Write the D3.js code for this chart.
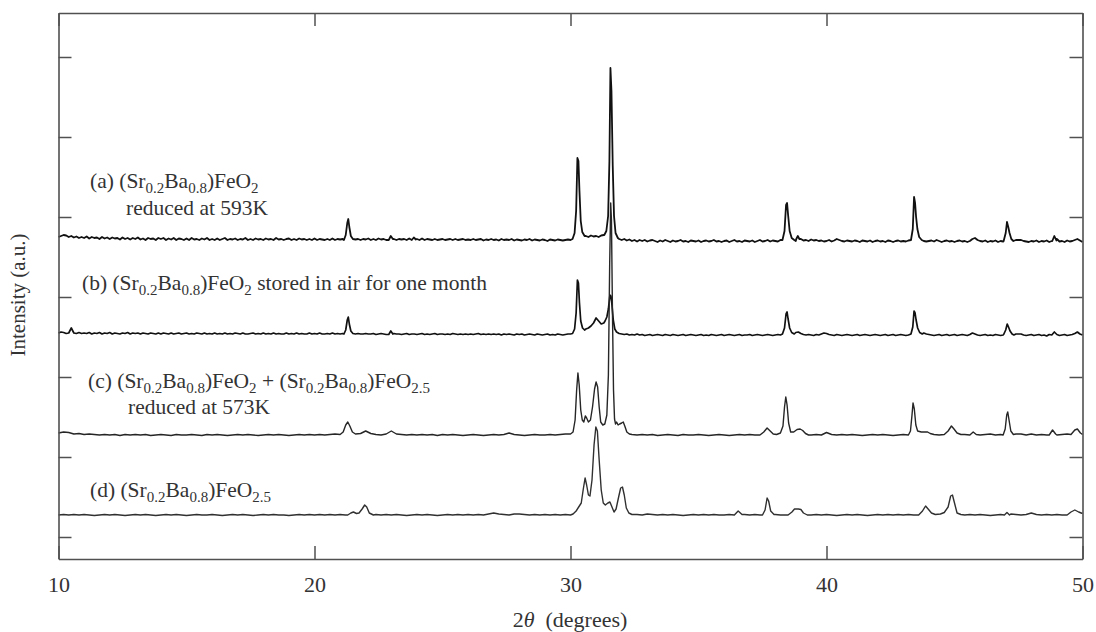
<!DOCTYPE html>
<html><head><meta charset="utf-8">
<script src="https://cdn.jsdelivr.net/npm/d3@7"></script>
<style>html,body{margin:0;padding:0;background:#fff;}svg{display:block;}</style>
</head><body>
<svg id="chart" width="1096" height="632"></svg>
<script>
// ---------- DATA ----------
const xTicks = [10, 20, 30, 40, 50];
const yTicks = [0, 80, 160, 240, 320, 400, 480];
const seriesNames = ["a", "b", "c", "d"];
const seriesOffsets = [296, 202, 102, 22];

// baseline grids (intensity above own baseline, a.u.)
const aGridStep = 0.1;
const aGrid = [
4,5,6,5.5,4,5,3.5,4.5,3,4,
3,4.5,2.5,4,3,3.5,2,4,2.5,3.5,
2,3.5,2.5,3,1.5,3.5,2,3,1.5,3,
2,3.5,1.5,2.5,1,3,2,2.5,1,3,
2,3,1,2.5,1.5,3,1,2.5,2,1,
2.5,1,3,1.5,2,1,2.5,1.5,3,1,
2,1,2.5,1,2,3,1,2,1.5,2.5,
1,2,1.5,3,1,2,1,2.5,1.5,2,
1,2.5,1.5,2,1,3,1.5,2,1,2,
2.5,1,2,1,2.5,1.5,2,1,2,1,
2.5,1,2,1.5,1,2,1,2.5,1,2,
1.5,2,1,2,1,2,1.5,2,1,2,
1.5,2.5,1,2,1,2.5,1.5,2,1,2,
1.5,2,1,2,1.5,2,1,2.5,1.5,1,
2,1,2.5,1,2,1.5,1,2,1,1.5,
2,1,1.5,2,1,2,1,1.5,2,1,
1.5,1,2,1,1.5,2,0.5,1.5,1,2,
1,1.5,0.5,2,1,1.5,1,2,0.5,1.5,
1,0.5,1.5,1,2,0.5,1.5,1,0.5,1.5,
1,0,1.5,1,0.5,1.5,1,0.5,1,1.5,
1,1.5,2,2,2,2,5,4,5.5,4.5,
5,4,5.5,6,8,8,8,8,3,2,
1,2,0.5,1.5,0,1,-0.5,1,0,1,
-0.5,0.5,1,0,-1,0.5,-0.5,1,0,-1,
0.5,-0.5,0,1,-0.5,0,-1,0.5,0,-0.5,
0.5,-1,0,0.5,-0.5,0,1,-0.5,0,-1,
0,0.5,-1,0,1,-0.5,0,-1,0.5,0,
-0.5,0.5,-1,0,1,-0.5,0,1,-0.5,0.5,
0,-0.5,1,0,0.5,1,1,1,0,1,
2,0.5,1,0,1.5,0.5,1,0,0.5,-0.5,
0,1,-0.5,0.5,2,1,0,-0.5,0.5,0,
-0.5,0.5,0,-1,0.5,0,-0.5,0.5,-1,0,
0.5,-0.5,0,-1,0.5,0,-1,0,0.5,-0.5,
0,-0.5,0.5,0,1,1,1,1,0,-0.5,
0,0.5,-0.5,1,0,-1,0,0.5,-0.5,0,
-1,0,0.5,-0.5,0,-1,0,2,3,1,
0,-0.5,0.5,-1,0,-0.5,0.5,-1,0,-0.5,
0,1,1,1,1,1,1,0,-0.5,-1,
0,-0.5,0.5,-1,0,-0.5,0.5,-1,0,0.5,
2,-0.5,0,-1,0.5,-0.5,0,1,2,0.5,
-1];
const aPeaks = [
[[21.15,1],[21.22,6],[21.28,18],[21.32,22],[21.36,14],[21.42,5],[21.5,2]],
[[22.9,1],[22.98,5],[23.06,2]],
[[23.8,1],[23.88,3.5],[23.96,1.5]],
[[30.08,2],[30.16,8],[30.22,30],[30.27,83],[30.31,80],[30.35,50],[30.4,20],[30.46,9],[30.55,5]],
[[31.32,6],[31.4,10],[31.47,25],[31.52,80],[31.56,173],[31.6,150],[31.65,75],[31.7,25],[31.76,8],[31.85,3]],
[[38.28,1],[38.36,10],[38.42,36],[38.46,38],[38.5,26],[38.56,10],[38.64,3],[38.74,1]],
[[38.82,2],[38.88,5],[38.94,2]],
[[43.3,1],[43.37,12],[43.42,44],[43.46,38],[43.5,24],[43.55,12],[43.62,4],[43.72,1]],
[[46.92,0],[47.0,8],[47.05,19],[47.1,14],[47.15,8],[47.22,2],[47.3,0]],
[[48.82,0],[48.9,5],[48.98,0.5]]
];

const bGridStep = 0.1;
const bGrid = [
2,3,2.5,1.5,2,7,2,1.5,2.5,1.5,
2,1.5,2.5,1,2,1.5,2.5,1,2,1.5,
2.5,1,2,1.5,1,2,1.5,2.5,1,2,
1.5,2,1,2,1.5,1,2,1.5,1,2,
1,2,1.5,1,2,1,1.5,2,1,1.5,
2,1,1.5,1,2,1.5,1,2,1,1.5,
1,2,1,1.5,1,2,1,1.5,1,2,
1.5,1,2,1,1,1.5,2,1,1.5,1,
2,1,1.5,1,2,1,1.5,1,1,2,
1,1.5,1,2,1,1.5,1,1,2,1,
1.5,1,2,1,1,1.5,1,2,1,1.5,
1,1.5,1,1,1,1,1,1.5,1,1,
1.5,1,1,1.5,0.5,1,1.5,1,0.5,1,
1,1.5,1,1,0.5,1,1.5,0.5,1,1,
0.5,1,1.5,0.5,1,0.5,1,1.5,0.5,1,
1,0.5,1,0.5,1.5,1,0.5,1,0.5,1,
0.5,1,0.5,1,1.5,0.5,1,0.5,1,0.5,
1,0.5,1,0,1,0.5,1,0.5,0,1,
0.5,1,0,0.5,1,0.5,0,1,0.5,0,
0.5,1,0,0.5,0,1,0.5,0,0.5,1,
1,1,1,1,1,1,6,7,9,12,
17,14,11,12,14,20,20,20,3,1.5,
1,0.5,1,0,0.5,0,1,0,0.5,-0.5,
0,0.5,-0.5,0,0.5,0,-0.5,0.5,0,-0.5,
0.5,0,-0.5,0,0.5,-0.5,0,0.5,0,-0.5,
0,0.5,-0.5,0,-0.5,0.5,0,-0.5,0,0.5,
-0.5,0,0.5,0,-0.5,0,0.5,-0.5,0,0,
0.5,-0.5,0,0.5,0,-0.5,0,0.5,0,-0.5,
0,0.5,0,-0.5,1,1,1,1,2.5,3,
1.5,0.5,0,0.5,0,-0.5,0.5,0,1,2,
1.5,0.5,0,-0.5,0.5,0,-0.5,0,0.5,0,
-0.5,0,0.5,-0.5,0,0.5,0,-0.5,0,0.5,
0,-0.5,0,0.5,-0.5,0,0.5,-0.5,0,0.5,
0,-0.5,0,0.5,1,1,1,1,2,1,
0.5,0,-0.5,0,0.5,-0.5,0,0.5,-0.5,0,
0.5,-0.5,0,0.5,0,-0.5,0.5,2,1,0,
-0.5,0,0.5,-0.5,0,-0.5,0.5,0,-0.5,0,
0.5,1,1,1,1,1,1,0,-0.5,0,
0.5,-0.5,0,0.5,-0.5,0,-1,0.5,0,3,
0.5,-0.5,0,0.5,-0.5,0,0.5,1.5,3,1,
0];
const bPeaks = [
[[21.15,1],[21.22,5],[21.28,15],[21.32,18],[21.36,11],[21.42,4],[21.5,1.5]],
[[22.9,0.5],[22.98,4],[23.06,1]],
[[30.08,1.5],[30.16,6],[30.22,22],[30.27,55],[30.31,52],[30.35,32],[30.4,14],[30.47,7],[30.55,5]],
[[31.35,14],[31.42,18],[31.48,26],[31.54,40],[31.58,39],[31.62,30],[31.67,15],[31.73,6],[31.8,3],[31.9,1.5]],
[[38.28,1],[38.36,7],[38.42,21],[38.46,23],[38.5,16],[38.56,7],[38.64,2.5],[38.74,1]],
[[43.3,1],[43.37,8],[43.42,24],[43.46,22],[43.5,15],[43.56,7],[43.64,2.5],[43.74,1]],
[[46.92,0.5],[47.0,5],[47.06,11],[47.11,8],[47.17,4],[47.25,1],[47.32,0]]
];

const cGridStep = 0.2;
const cGrid = [
2,3,2.5,1,1.5,
0.5,1,0.5,0,0.5,
0,0.5,-0.5,0.5,0,
0.5,0,0.5,-0.5,0,
0.5,0,-0.5,0.5,0,
0,0.5,0,-0.5,0.5,
0,0.5,0,-0.5,0,
0.5,0,0.5,0,-0.5,
0,0.5,0,0.5,0,
-0.5,0,0.5,0,0.5,
0,0.5,0,0.5,1,
0.5,5,8,2,1.5,
4,1.5,0.5,0,1,
4,1,0.5,0,0.5,
0,0.5,0,0.5,-0.5,
0.5,0,0.5,0,-0.5,
0,0.5,0,-0.5,0,
0.5,0,0.5,2,0.5,
0,-0.5,0,0.5,0,
0,0.5,0,0.5,1,
3,3,3,3,3,
3,3,3,3,3,
3,3,3,0,0.5,
0,0.5,-0.5,0,0.5,
0,-0.5,0.5,0,0,
0.5,0,-0.5,0,0.5,
0,-0.5,0,0.5,0,
0.5,0,0.5,4,6,
2,2,2,2,2,
2,0.5,0,0.5,0,
2.5,0.5,0,0.5,0,
0.5,0,-0.5,0,0.5,
0,0.5,0,-0.5,0,
0.5,1,1,1,1,
1,0.5,0,0.5,0,
0.5,0,0.5,0,0.5,
0,0.5,1,0,0.5,
1,1,1,1,0,
1,0,0.5,0,-0.5,
0,0.5,1,0,0.5,
0.5];
const cPeaks = [
[[21.0,0.5],[21.12,3],[21.22,10],[21.3,13],[21.38,9],[21.48,3],[21.6,1]],
[[30.0,1],[30.1,3],[30.18,15],[30.24,45],[30.29,62],[30.34,50],[30.4,25],[30.46,15],[30.52,13],[30.58,19],[30.63,17],[30.7,13],[30.78,15],[30.86,28],[30.94,46],[31.0,53],[31.06,48],[31.12,28],[31.18,13],[31.26,10],[31.34,11],[31.42,20],[31.48,60],[31.53,170],[31.57,232],[31.6,215],[31.64,120],[31.68,45],[31.72,16],[31.76,11],[31.8,13],[31.86,10],[31.92,11],[32.0,12],[32.06,13],[32.12,9],[32.2,3],[32.3,1],[32.4,0.5]],
[[37.4,0],[37.55,3],[37.68,7],[37.8,4],[37.92,1],[38.05,0.5],[38.2,2],[38.3,9],[38.36,28],[38.41,38],[38.46,30],[38.52,12],[38.6,3],[38.72,3],[38.85,5.5],[38.97,6],[39.07,4.5],[39.18,1.5],[39.3,0]],
[[43.2,0],[43.28,4],[43.34,20],[43.38,32],[43.43,26],[43.49,10],[43.56,4],[43.7,3],[43.85,3],[43.95,3],[44.05,1.5],[44.2,0.5]],
[[44.6,0.5],[44.75,4],[44.88,9],[44.98,6],[45.1,2],[45.25,0.5]],
[[45.6,0],[45.73,3],[45.85,0.5]],
[[46.9,0],[46.98,6],[47.04,20],[47.08,23],[47.13,15],[47.2,4],[47.3,0.5]],
[[48.7,0],[48.83,5],[48.95,1]],
[[49.55,0.5],[49.7,5],[49.8,6],[49.92,2],[50.0,0.5]]
];

const dGridStep = 0.2;
const dGrid = [
0,0.5,0,0.5,0,
0.5,0,-0.5,0,0.5,
0,0.5,0,-0.5,0,
0.5,0,0.5,0,-0.5,
0,0.5,0,0.5,0,
-0.5,0,0.5,0,0,
0.5,0,-0.5,0,0.5,
0,0.5,0,-0.5,0,
0.5,0,0.5,0,0,
-0.5,0,0.5,0,0.5,
0,0.5,0,0.5,0,
0.5,0,0.5,1,2,
9,2,0.5,0,0.5,
0,0.5,0,-0.5,0,
0.5,0,0.5,0,-0.5,
0,0.5,0,0.5,0,
0.5,0,0.5,0,1,
2,1,0.5,0,1,
1,0.5,0,0.5,0,
0.5,0,0.5,0,0.5,
0,0,0,0,0,
0,0,0,0,0,
0,0,0,0.5,0,
1,0.5,0,0.5,0,
0.5,0,-0.5,0,0.5,
0,0.5,0,0.5,0,
0,0.5,2,1,0.5,
0,0.5,0,0,0,
0.5,0,0,0,0,
0,0.5,0,0.5,0,
0.5,0,-0.5,0,0.5,
0,0.5,0,-0.5,0,
0.5,0,0.5,0,0.5,
0,0.5,0,0.5,0,
0,0,0,0,0,
0,0.5,0,0.5,0,
0.5,0,-0.5,0,0.5,
0,1,0.5,0,0.5,
2,0.5,0,0.5,0,
0.5,0,0,0,0,
1];
const dPeaks = [
[[21.3,0],[21.42,2],[21.52,3],[21.64,1.5],[21.74,2],[21.86,6],[21.96,10],[22.04,8],[22.14,2],[22.3,0]],
[[30.0,0],[30.1,1],[30.22,4],[30.32,8],[30.42,12],[30.5,26],[30.57,37],[30.63,30],[30.7,20],[30.76,19],[30.84,35],[30.92,70],[30.99,88],[31.05,84],[31.12,55],[31.2,25],[31.28,12],[31.36,10],[31.46,12],[31.54,13],[31.62,8],[31.7,3],[31.78,6],[31.88,18],[31.96,27],[32.03,28],[32.1,20],[32.18,7],[32.28,2],[32.4,0.5]],
[[36.4,0],[36.55,4],[36.7,0.5]],
[[37.5,0],[37.6,5],[37.68,17],[37.74,14],[37.82,4],[37.95,0.5]],
[[38.5,0],[38.65,3],[38.75,6],[38.9,6],[39.0,5.5],[39.1,2],[39.25,0]],
[[43.6,0],[43.75,4],[43.87,9],[43.97,6],[44.1,2],[44.25,0.5],[44.45,1],[44.6,2.5],[44.75,8],[44.85,19],[44.92,20],[45.0,12],[45.1,2],[45.25,0.5]],
[[46.95,0],[47.05,2.5],[47.15,0]],
[[49.4,0],[49.55,3],[49.7,5],[49.85,3],[50.0,1.5]]
];

const labelA1 = [["(a) (Sr",0],["0.2",1],["Ba",0],["0.8",1],[")FeO",0],["2",1]];
const labelA2 = [["reduced at 593K",0]];
const labelB  = [["(b) (Sr",0],["0.2",1],["Ba",0],["0.8",1],[")FeO",0],["2",1],[" stored in air for one month",0]];
const labelC1 = [["(c) (Sr",0],["0.2",1],["Ba",0],["0.8",1],[")FeO",0],["2",1],[" + (Sr",0],["0.2",1],["Ba",0],["0.8",1],[")FeO",0],["2.5",1]];
const labelC2 = [["reduced at 573K",0]];
const labelD  = [["(d) (Sr",0],["0.2",1],["Ba",0],["0.8",1],[")FeO",0],["2.5",1]];
const xLabel = "(degrees)";
const yLabel = "Intensity (a.u.)";

// ---------- BUILD ----------
function buildSeries(grid, step, peaks) {
  const pts = [];
  grid.forEach((v, i) => {
    const xv = +(10 + i * step).toFixed(2);
    const inPeak = peaks.some(g => xv >= g[0][0] && xv <= g[g.length - 1][0]);
    if (!inPeak) pts.push([xv, v]);
  });
  peaks.forEach(g => g.forEach(p => pts.push(p)));
  pts.sort((p, q) => p[0] - q[0]);
  return pts;
}
const series = [
  buildSeries(aGrid, aGridStep, aPeaks),
  buildSeries(bGrid, bGridStep, bPeaks),
  buildSeries(cGrid, cGridStep, cPeaks),
  buildSeries(dGrid, dGridStep, dPeaks)
];

const svg = d3.select("#chart");
const L = 58.5, R = 1082.5, T = 13, B = 559;
const x = d3.scaleLinear().domain([10, 50]).range([L, R]);
const y = d3.scaleLinear().domain([-22, 524]).range([B, T]);
const FONT = "'Liberation Serif','Times New Roman',serif";
const AX = "#505050";

svg.append("rect").attr("width", 1096).attr("height", 632).attr("fill", "#fff");

// curves
const line = d3.line().x(d => x(d[0])).y(d => y(d[1]));
const strokes = ["#111", "#111", "#262626", "#303030"];
const widths = [1.8, 1.7, 1.4, 1.4];
series.forEach((s, i) => {
  const off = seriesOffsets[i];
  svg.append("path")
    .datum(s.map(p => [p[0], p[1] + off]))
    .attr("fill", "none")
    .attr("stroke", strokes[i])
    .attr("stroke-width", widths[i])
    .attr("stroke-linejoin", "round")
    .attr("d", line);
});

// axes
function styleAxis(g) {
  g.selectAll("path.domain").attr("stroke", AX).attr("stroke-width", 1.6);
  g.selectAll(".tick line").attr("stroke", AX).attr("stroke-width", 1.5);
}
const gB = svg.append("g").attr("transform", `translate(0,${B})`)
  .call(d3.axisBottom(x).tickValues(xTicks).tickSizeInner(-13).tickSizeOuter(0).tickPadding(17));
gB.call(styleAxis);
gB.selectAll("text").attr("font-family", FONT).attr("font-size", 22).attr("fill", "#333");
const gT = svg.append("g").attr("transform", `translate(0,${T})`)
  .call(d3.axisTop(x).tickValues(xTicks).tickSizeInner(-13).tickSizeOuter(0).tickFormat(""));
gT.call(styleAxis);
const gL = svg.append("g").attr("transform", `translate(${L},0)`)
  .call(d3.axisLeft(y).tickValues(yTicks).tickSizeInner(-13).tickSizeOuter(0).tickFormat(""));
gL.call(styleAxis);
const gR = svg.append("g").attr("transform", `translate(${R},0)`)
  .call(d3.axisRight(y).tickValues(yTicks).tickSizeInner(-13).tickSizeOuter(0).tickFormat(""));
gR.call(styleAxis);

// rich labels
function richText(parts, px, py) {
  const t = svg.append("text").attr("x", px).attr("y", py)
    .attr("font-family", FONT).attr("font-size", 21.5).attr("fill", "#333")
    .attr("xml:space", "preserve");
  let sub = false;
  parts.forEach(([s, isSub]) => {
    const ts = t.append("tspan").text(s);
    if (isSub && !sub) { ts.attr("dy", 5).attr("font-size", 15); sub = true; }
    else if (isSub && sub) { ts.attr("font-size", 15); }
    else if (!isSub && sub) { ts.attr("dy", -5); sub = false; }
  });
  return t;
}
richText(labelA1, 90, 188);
richText(labelA2, 126, 215);
richText(labelB, 82, 290);
richText(labelC1, 88, 388);
richText(labelC2, 128, 414);
richText(labelD, 90, 497);

// axis titles
svg.append("text").attr("transform", "translate(25,295) rotate(-90)")
  .attr("text-anchor", "middle").attr("font-family", FONT).attr("font-size", 21)
  .attr("fill", "#333").text(yLabel);
const xt = svg.append("text").attr("x", 570).attr("y", 627)
  .attr("text-anchor", "middle").attr("font-family", FONT).attr("font-size", 22)
  .attr("fill", "#333").attr("xml:space", "preserve");
xt.append("tspan").text("2");
xt.append("tspan").attr("font-style", "italic").text("θ");
xt.append("tspan").text("  " + xLabel);
</script>
</body></html>
